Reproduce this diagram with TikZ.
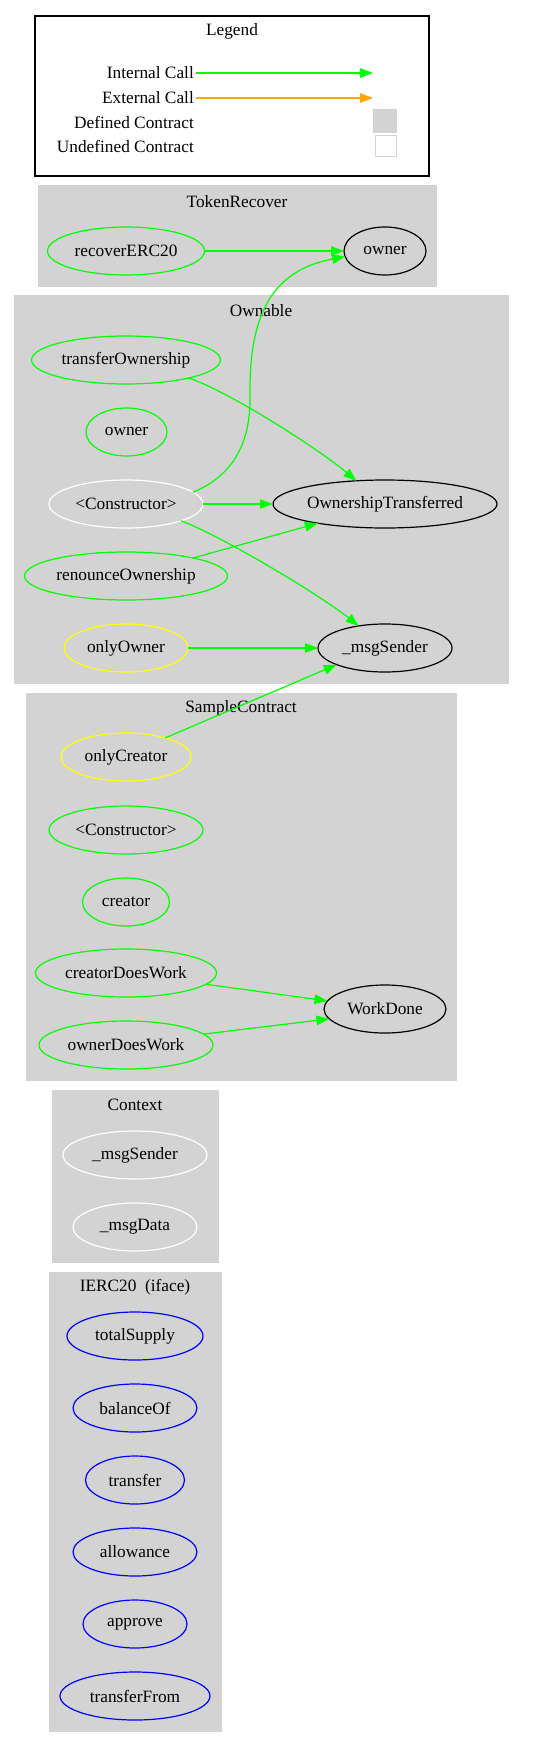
\documentclass[tikz,border=0pt]{standalone}
\usepackage{fontspec}
\setmainfont{Liberation Serif}
\usetikzlibrary{shapes.geometric,arrows.meta}
\definecolor{gvgreen}{RGB}{0,255,0}
\definecolor{gvyellow}{RGB}{255,255,0}
\definecolor{gvblue}{RGB}{0,0,255}
\definecolor{gvorange}{RGB}{255,165,0}
\definecolor{gvgray}{RGB}{211,211,211}
\tikzset{
  fn/.style={ellipse, draw, line width=1.2pt, inner sep=0pt, outer sep=0pt, minimum height=48pt},
  greenfn/.style={fn, draw=gvgreen},
  yellowfn/.style={fn, draw=gvyellow},
  whitefn/.style={fn, draw=white},
  blackfn/.style={fn, draw=black},
  bluefn/.style={fn, draw=gvblue},
  cluster/.style={fill=gvgray, draw=gvgray, line width=1pt},
  ctitle/.style={inner sep=0pt},
  call/.style={draw=gvgreen, line width=1.2pt, -{Triangle[length=13pt,width=9.5pt]}},
  extcall/.style={draw=gvorange, line width=1.2pt, -{Triangle[length=13pt,width=9.5pt]}},
  legendlabel/.style={anchor=east, inner sep=2pt},
}
\begin{document}
\begin{tikzpicture}[x=1pt,y=-1pt,font=\fontsize{17.3pt}{20pt}\selectfont]
\useasboundingbox (0,0) rectangle (558,1747);
% Legend
\draw[line width=1.2pt] (35,16) rectangle (429,176);
\node[ctitle] (legendtitle) at (232,31) {Legend};
\node[legendlabel] (icl) at (196,73) {Internal Call};
\node[legendlabel] (ecl) at (196,98) {External Call};
\node[legendlabel] (dcl) at (196,122) {Defined Contract};
\node[legendlabel] (ucl) at (196,146) {Undefined Contract};
\coordinate (icend) at (373,73);
\coordinate (ecend) at (373,98);
\draw[call] (icl.east) -- (icend);
\draw[extcall] (ecl.east) -- (ecend);
\fill[gvgray] (373,109) rectangle (397,133);
\draw[gvgray, line width=1pt] (375,136) rectangle (396,157);

% TokenRecover
\draw[cluster] (38,186) rectangle (436,286);
\node[ctitle] (trtitle) at (237,202) {TokenRecover};
\node[greenfn, minimum width=157pt] (recover) at (126,251) {recoverERC20};
\node[blackfn, minimum width=82pt] (ownerT) at (385,251) {owner};

% Ownable
\draw[cluster] (14,295) rectangle (508,683);
\node[ctitle] (owtitle) at (261,311) {Ownable};
\node[greenfn, minimum width=189pt] (tO) at (126,360) {transferOwnership};
\node[greenfn, minimum width=81pt] (ownO) at (126.5,432) {owner};
\node[whitefn, minimum width=154pt] (ctorO) at (126,504) {<Constructor>};
\node[blackfn, minimum width=224pt] (OT) at (385,504) {OwnershipTransferred};
\node[greenfn, minimum width=203pt] (rO) at (126,576) {renounceOwnership};
\node[yellowfn, minimum width=124pt] (onlyO) at (126,648) {onlyOwner};
\node[blackfn, minimum width=134pt] (msgO) at (385,648) {\_msgSender};

% SampleContract
\draw[cluster] (26,693) rectangle (456,1080);
\node[ctitle] (sctitle) at (241,708) {SampleContract};
\node[yellowfn, minimum width=130pt] (onlyC) at (126,757) {onlyCreator};
\node[greenfn, minimum width=154pt] (ctorS) at (126,830) {<Constructor>};
\node[greenfn, minimum width=87pt] (creator) at (126,902) {creator};
\node[greenfn, minimum width=181pt] (cDW) at (126,973) {creatorDoesWork};
\node[greenfn, minimum width=174pt] (oDW) at (126,1045) {ownerDoesWork};
\node[blackfn, minimum width=122pt] (WD) at (385,1009) {WorkDone};

% Context
\draw[cluster] (52,1090) rectangle (218,1262);
\node[ctitle] (cxtitle) at (135,1105) {Context};
\node[whitefn, minimum width=144pt] (msgC) at (135,1155) {\_msgSender};
\node[whitefn, minimum width=124pt] (msgD) at (135,1227) {\_msgData};

% IERC20
\draw[cluster] (49,1272) rectangle (221,1731);
\node[ctitle] (ietitle) at (135,1287) {IERC20~~(iface)};
\node[bluefn, minimum width=136pt] (tS) at (135,1336) {totalSupply};
\node[bluefn, minimum width=124pt] (bO) at (135,1408) {balanceOf};
\node[bluefn, minimum width=99pt] (tr) at (135,1480) {transfer};
\node[bluefn, minimum width=124pt] (al) at (135,1552) {allowance};
\node[bluefn, minimum width=104pt] (ap) at (135,1624) {approve};
\node[bluefn, minimum width=150pt] (tF) at (135,1696) {transferFrom};

% Edges
\draw[call] (recover) -- (ownerT);
\draw[call] (ctorO.10) .. controls (235,475) and (251,440) .. (250,395)
  .. controls (249,310) and (275,270) .. (ownerT.188);
\draw[call] (tO.-16) .. controls (230,392) and (320,450) .. (OT.141);
\draw[call] (ctorO) -- (OT);
\draw[call] (ctorO.-17) .. controls (220,535) and (320,595) .. (msgO.140);
\draw[call] (rO.15) -- (OT.196);
\draw[call] (onlyO) -- (msgO);
\draw[call] (onlyC.26) -- (msgO.199);
\draw[call] (cDW.-8) -- (WD.172);
\draw[call] (oDW.8) -- (WD.190);
\end{tikzpicture}
\end{document}
